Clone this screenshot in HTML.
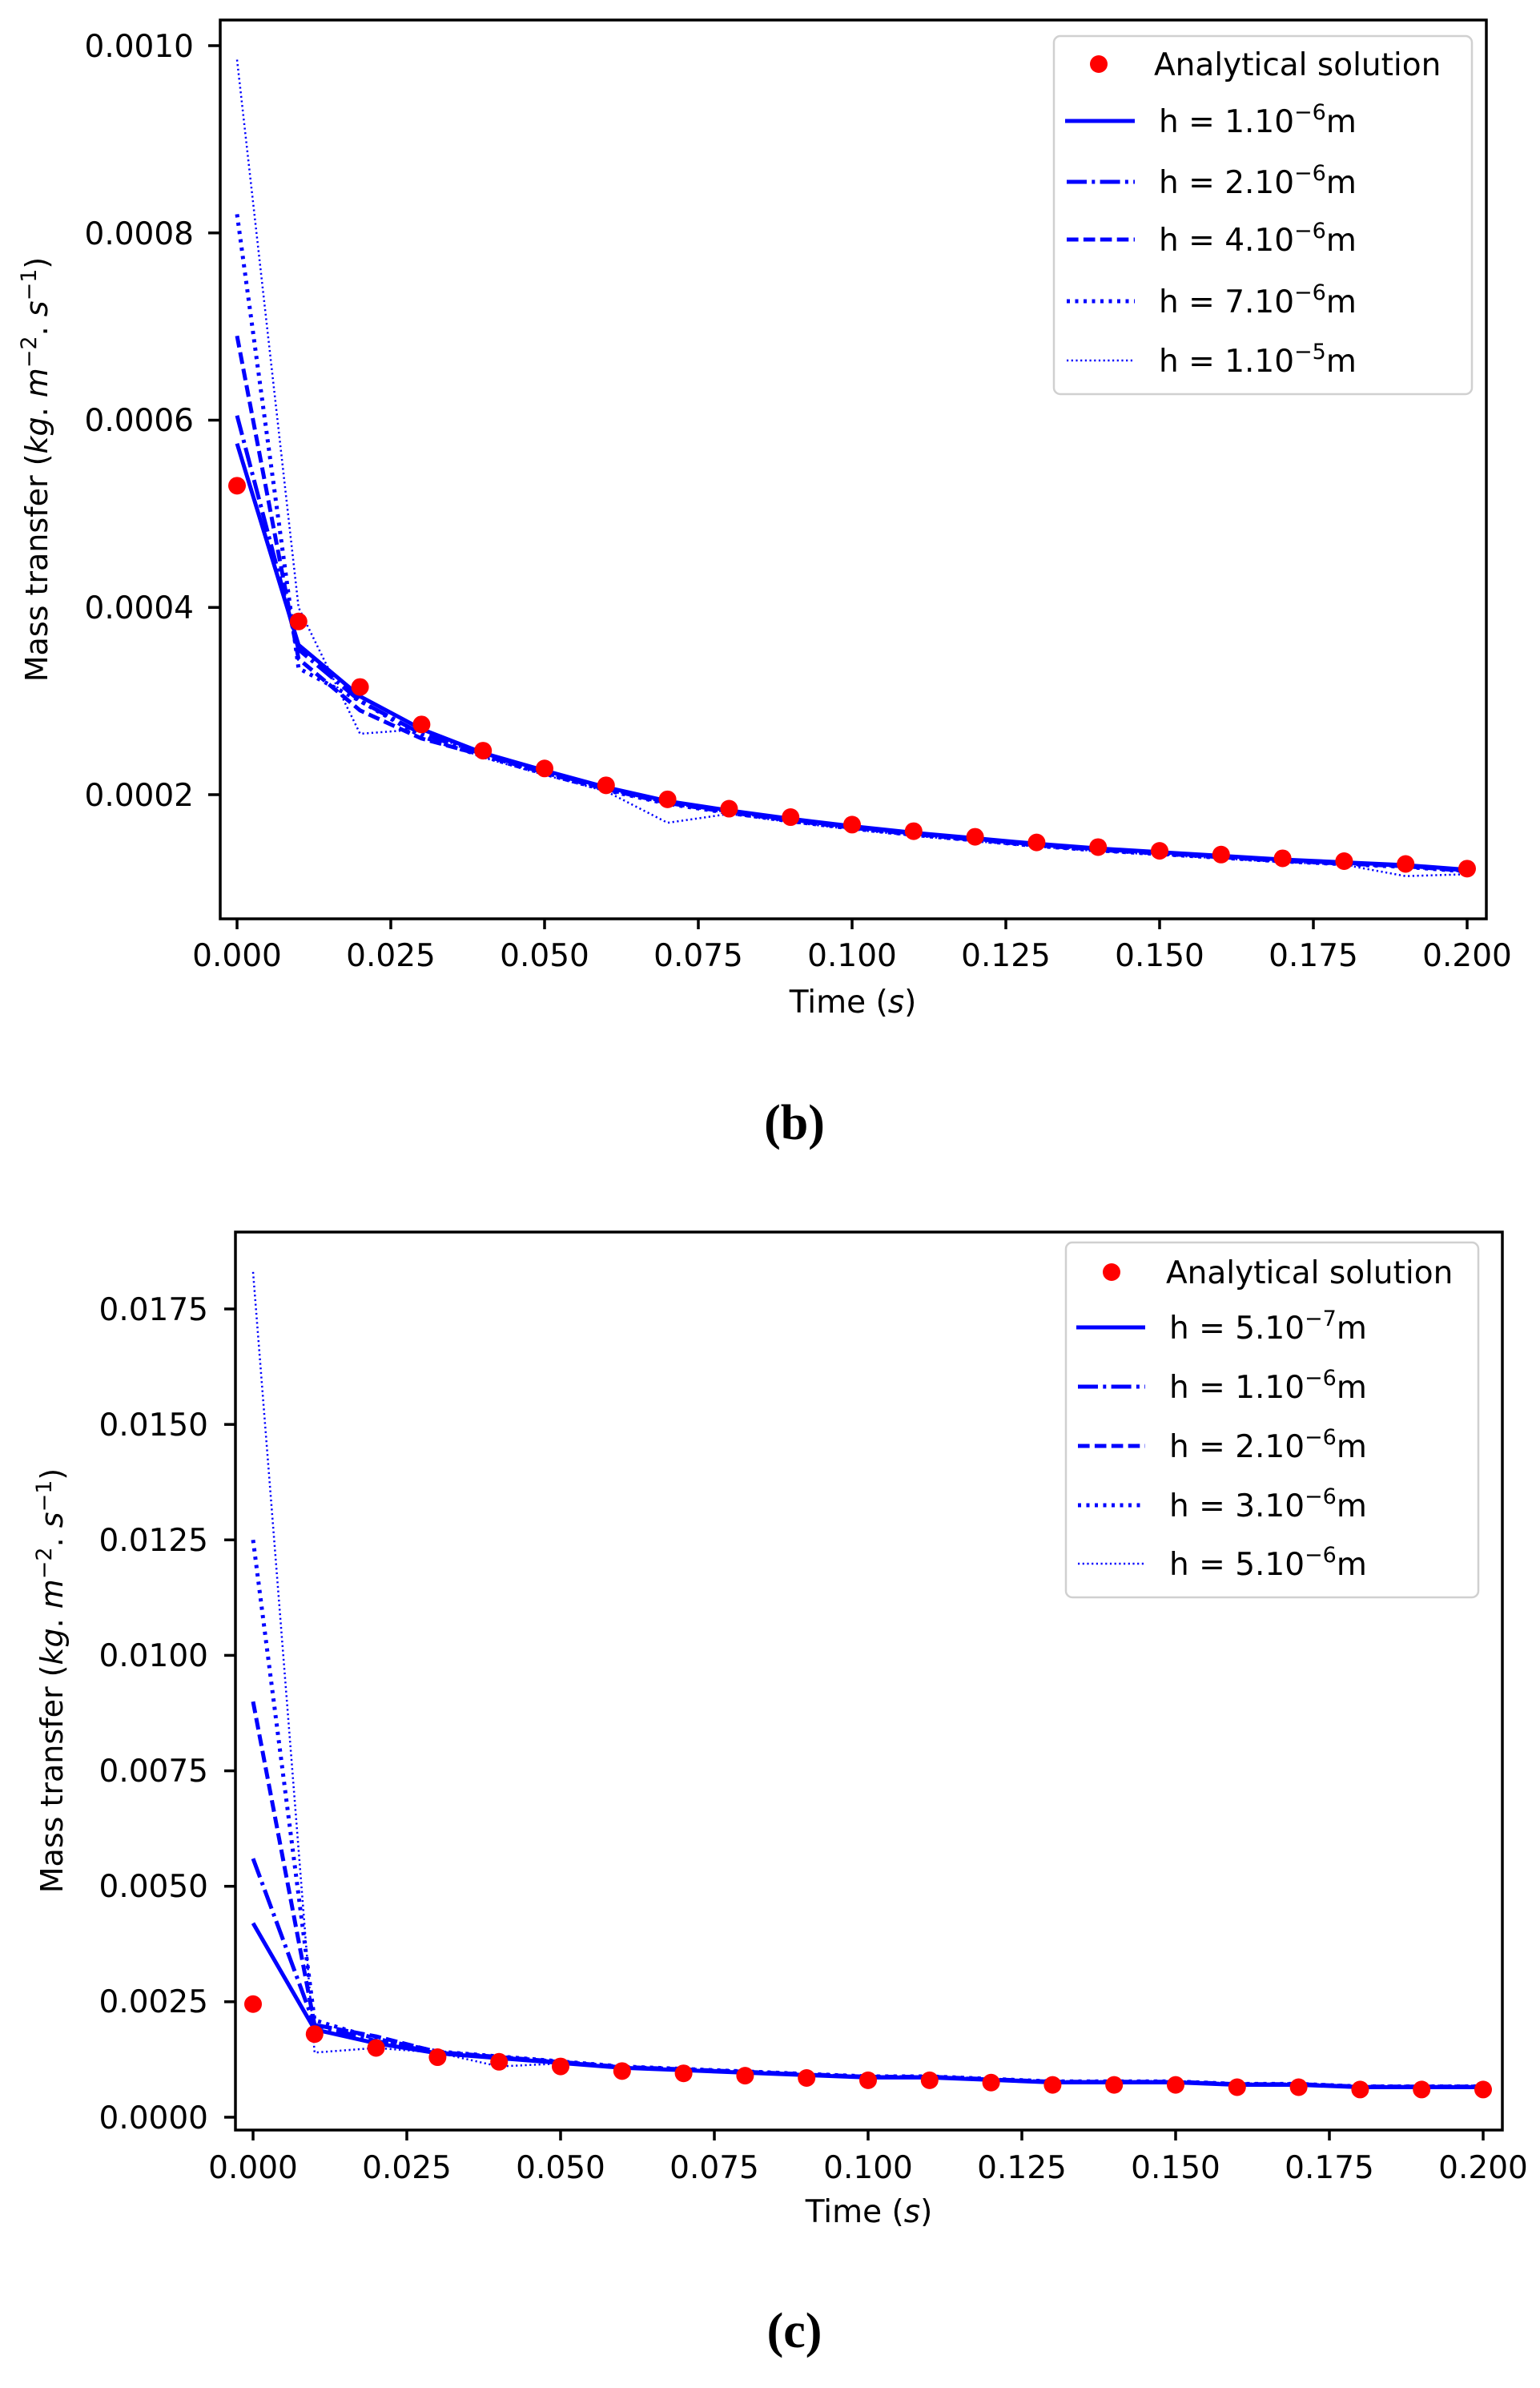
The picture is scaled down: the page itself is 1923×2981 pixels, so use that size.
<!DOCTYPE html>
<html><head><meta charset="utf-8"><style>
html,body{margin:0;padding:0;background:#fff;}
svg{display:block;}
text{font-family:"DejaVu Sans","Liberation Sans",sans-serif;fill:#000;}
</style></head><body>
<svg id="s" width="1923" height="2981" viewBox="0 0 1923 2981" xmlns="http://www.w3.org/2000/svg">
<rect width="1923" height="2981" fill="#fff"/>
<g id="plots"></g>
<rect x="275" y="25" width="1581" height="1122" fill="none" stroke="#000" stroke-width="3.5"/>
<g font-size="39" text-anchor="end">
<text x="242" y="71">0.0010</text>
<text x="242" y="305">0.0008</text>
<text x="242" y="538">0.0006</text>
<text x="242" y="772">0.0004</text>
<text x="242" y="1006">0.0002</text>
</g>
<g font-size="39" text-anchor="middle">
<text x="296" y="1206">0.000</text><text x="488" y="1206">0.025</text><text x="680" y="1206">0.050</text>
<text x="872" y="1206">0.075</text><text x="1064" y="1206">0.100</text><text x="1256" y="1206">0.125</text>
<text x="1448" y="1206">0.150</text><text x="1640" y="1206">0.175</text><text x="1832" y="1206">0.200</text>
<text x="1065" y="1264">Time (<tspan font-style="italic">s</tspan>)</text>
</g>
<text font-size="38" text-anchor="middle" transform="translate(59,586) rotate(-90)">Mass transfer (<tspan font-style="italic">kg</tspan>. <tspan font-style="italic">m</tspan><tspan font-size="27" dy="-14">−2</tspan><tspan dy="14">. </tspan><tspan font-style="italic">s</tspan><tspan font-size="27" dy="-14">−1</tspan><tspan dy="14">)</tspan></text>
<text x="992" y="1422" font-size="62" font-weight="bold" text-anchor="middle" style="font-family:'Liberation Serif',serif">(b)</text>

<rect x="294" y="1538" width="1582" height="1121" fill="none" stroke="#000" stroke-width="3.5"/>
<g font-size="39" text-anchor="end">
<text x="260" y="1648">0.0175</text>
<text x="260" y="1792">0.0150</text>
<text x="260" y="1936">0.0125</text>
<text x="260" y="2080">0.0100</text>
<text x="260" y="2224">0.0075</text>
<text x="260" y="2368">0.0050</text>
<text x="260" y="2512">0.0025</text>
<text x="260" y="2657">0.0000</text>
</g>
<g font-size="39" text-anchor="middle">
<text x="316" y="2719">0.000</text><text x="508" y="2719">0.025</text><text x="700" y="2719">0.050</text>
<text x="892" y="2719">0.075</text><text x="1084" y="2719">0.100</text><text x="1276" y="2719">0.125</text>
<text x="1468" y="2719">0.150</text><text x="1660" y="2719">0.175</text><text x="1852" y="2719">0.200</text>
<text x="1085" y="2774">Time (<tspan font-style="italic">s</tspan>)</text>
</g>
<text font-size="38" text-anchor="middle" transform="translate(78,2098) rotate(-90)">Mass transfer (<tspan font-style="italic">kg</tspan>. <tspan font-style="italic">m</tspan><tspan font-size="27" dy="-14">−2</tspan><tspan dy="14">. </tspan><tspan font-style="italic">s</tspan><tspan font-size="27" dy="-14">−1</tspan><tspan dy="14">)</tspan></text>
<text x="992" y="2930" font-size="62" font-weight="bold" text-anchor="middle" style="font-family:'Liberation Serif',serif">(c)</text>

<rect x="1316" y="45" width="522" height="447" rx="8" fill="#fff" fill-opacity="0.8" stroke="#d0d0d0" stroke-width="2.5"/>
<circle cx="1372" cy="80" r="11" fill="#f00"/>
<g stroke="#0000ff" fill="none">
<line x1="1330" y1="151" x2="1417" y2="151" stroke-width="5"/>
<line x1="1332" y1="227" x2="1417" y2="227" stroke-width="5" stroke-dasharray="25,6.3,4,6.3"/>
<line x1="1332" y1="299" x2="1417" y2="299" stroke-width="5" stroke-dasharray="14.6,6.3"/>
<line x1="1332" y1="376" x2="1417" y2="376" stroke-width="5" stroke-dasharray="4,6.5"/>
<line x1="1332" y1="450" x2="1417" y2="450" stroke-width="2.5" stroke-dasharray="2.2,3.5"/>
</g>
<g font-size="39">
<text x="1441" y="94">Analytical solution</text>
<text x="1447" y="165">h = 1.10<tspan font-size="27" dy="-16">−6</tspan><tspan dy="16">m</tspan></text>
<text x="1447" y="241">h = 2.10<tspan font-size="27" dy="-16">−6</tspan><tspan dy="16">m</tspan></text>
<text x="1447" y="313">h = 4.10<tspan font-size="27" dy="-16">−6</tspan><tspan dy="16">m</tspan></text>
<text x="1447" y="390">h = 7.10<tspan font-size="27" dy="-16">−6</tspan><tspan dy="16">m</tspan></text>
<text x="1447" y="464">h = 1.10<tspan font-size="27" dy="-16">−5</tspan><tspan dy="16">m</tspan></text>
</g>

<rect x="1331" y="1551" width="515" height="443" rx="8" fill="#fff" fill-opacity="0.8" stroke="#d0d0d0" stroke-width="2.5"/>
<circle cx="1388" cy="1588" r="11" fill="#f00"/>
<g stroke="#0000ff" fill="none">
<line x1="1344" y1="1657" x2="1430" y2="1657" stroke-width="5"/>
<line x1="1346" y1="1731" x2="1430" y2="1731" stroke-width="5" stroke-dasharray="25,6.3,4,6.3"/>
<line x1="1346" y1="1805" x2="1430" y2="1805" stroke-width="5" stroke-dasharray="14.6,6.3"/>
<line x1="1346" y1="1879" x2="1430" y2="1879" stroke-width="5" stroke-dasharray="4,6.5"/>
<line x1="1346" y1="1952" x2="1430" y2="1952" stroke-width="2.5" stroke-dasharray="2.2,3.5"/>
</g>
<g font-size="39">
<text x="1456" y="1602">Analytical solution</text>
<text x="1460" y="1671">h = 5.10<tspan font-size="27" dy="-16">−7</tspan><tspan dy="16">m</tspan></text>
<text x="1460" y="1745">h = 1.10<tspan font-size="27" dy="-16">−6</tspan><tspan dy="16">m</tspan></text>
<text x="1460" y="1819">h = 2.10<tspan font-size="27" dy="-16">−6</tspan><tspan dy="16">m</tspan></text>
<text x="1460" y="1893">h = 3.10<tspan font-size="27" dy="-16">−6</tspan><tspan dy="16">m</tspan></text>
<text x="1460" y="1966">h = 5.10<tspan font-size="27" dy="-16">−6</tspan><tspan dy="16">m</tspan></text>
</g>
</svg>
<script>
(function(){
var NS="http://www.w3.org/2000/svg",g=document.getElementById("plots");
function el(n,a){var e=document.createElementNS(NS,n);for(var k in a)e.setAttribute(k,a[k]);g.appendChild(e);return e;}
function tk(x1,y1,x2,y2){el("line",{x1:x1,y1:y1,x2:x2,y2:y2,stroke:"#000","stroke-width":3.5});}
var i;
for(i=0;i<9;i++){var x=296+i*192;tk(x,1147,x,1160);x=316+i*192;tk(x,2659,x,2672);}
for(i=0;i<5;i++){var y=57+i*233.75;tk(260,y,275,y);}
for(i=0;i<8;i++){var y=1634+i*144.14;tk(280,y,294,y);}
var styles=[{w:5,d:""},{w:5,d:"25,6.3,4,6.3"},{w:5,d:"14.6,6.3"},{w:5,d:"4,6.5"},{w:2.5,d:"2.2,3.5"}];
function plot(x0,yf,ana,series){
  series.forEach(function(s,k){
    var pts=s.map(function(v,j){return (x0+j*76.8).toFixed(1)+","+yf(v).toFixed(1);}).join(" ");
    var a={points:pts,fill:"none",stroke:"#0000ff","stroke-width":styles[k].w,"stroke-linejoin":"round"};
    if(styles[k].d)a["stroke-dasharray"]=styles[k].d;
    el("polyline",a);
  });
  ana.forEach(function(v,j){el("circle",{cx:x0+j*76.8,cy:yf(v),r:11,fill:"#f00"});});
}
var yb=function(v){return 57+(10-v)*116.875;};
var anaB=[5.3,3.85,3.15,2.75,2.47,2.28,2.10,1.95,1.85,1.76,1.68,1.61,1.55,1.49,1.44,1.40,1.36,1.32,1.29,1.26,1.21];
function follow(a,f){return a.map(function(v,j){return j<2?null:v*f;});}
function mk(v0,v1,f,mods){var r=follow(anaB,f);r[0]=v0;r[1]=v1;if(mods)for(var k in mods)r[k]=mods[k];return r;}
var sB=[
 mk(5.75,3.6,0.99,{2:3.05,3:2.7}),
 mk(6.05,3.55,0.985,{2:3.0,3:2.65}),
 mk(6.9,3.45,0.98,{2:2.9,3:2.6}),
 mk(8.2,3.35,0.975,{2:3.0,3:2.62}),
 mk(9.85,4.0,0.97,{2:2.65,3:2.7,7:1.7,19:1.13,20:1.15})
];
plot(296,yb,anaB,sB);
var yc=function(v){return 2643-v*57.66;};
var anaC=[2.45,1.8,1.5,1.3,1.2,1.1,1.0,0.95,0.9,0.85,0.8,0.8,0.75,0.7,0.7,0.7,0.65,0.65,0.6,0.6,0.6];
function mc(v0,v1,v2,f){return anaC.map(function(v,j){return j==0?v0:j==1?v1:j==2?v2:Math.max(v*f,0.6)+0.02;});}
var sC=[mc(4.2,1.9,1.6,1.05),mc(5.6,2.0,1.65,1.06),mc(9.0,2.0,1.75,1.07),mc(12.5,2.1,1.7,1.08),mc(18.3,1.4,1.5,1.04)];
sC[4][3]=1.4;sC[4][4]=1.1;
plot(316,yc,anaC,sC);
})();
</script>
</body></html>
